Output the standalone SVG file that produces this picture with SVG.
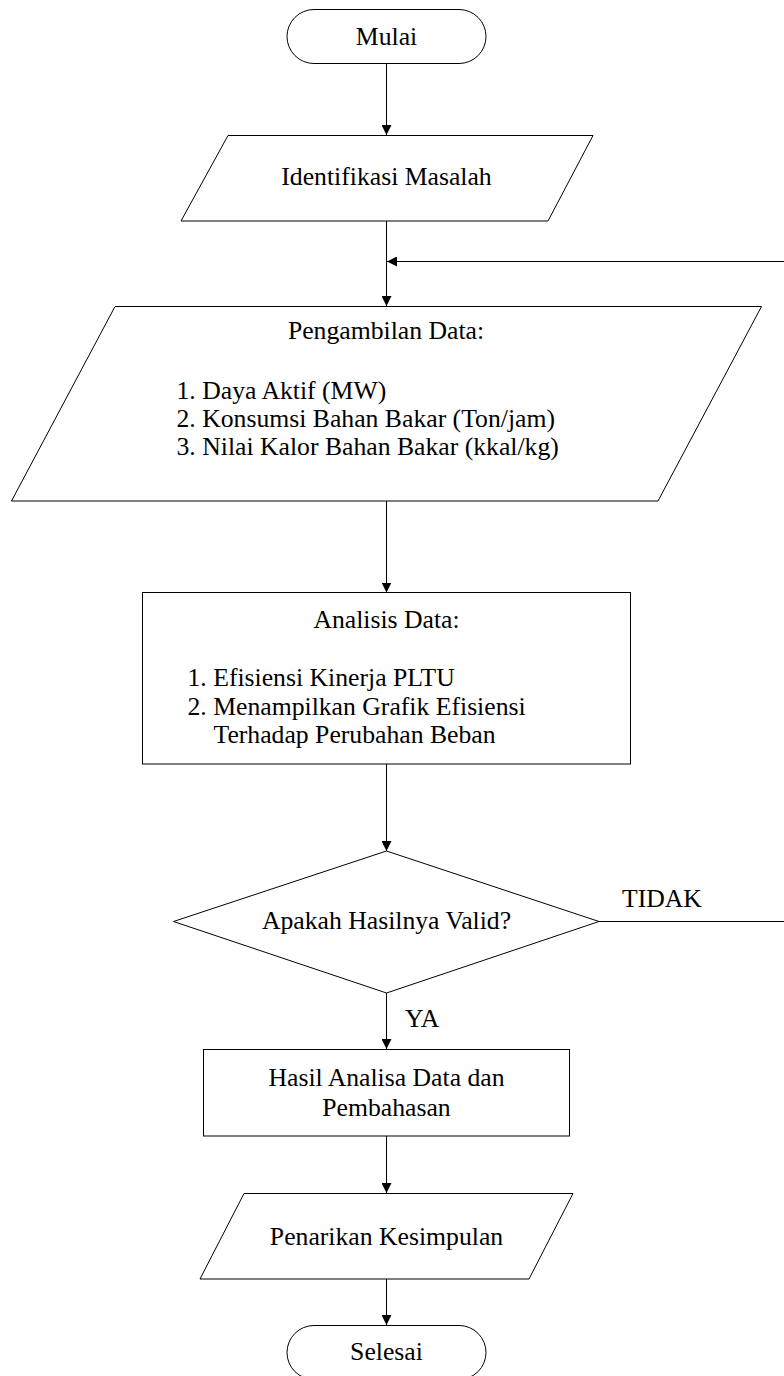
<svg xmlns="http://www.w3.org/2000/svg" width="784" height="1376" viewBox="0 0 784 1376">
<defs>
<style>
.shape{fill:#fff;stroke:#000;stroke-width:1}
.conn{fill:none;stroke:#000;stroke-width:1}
text{font-family:"Liberation Serif","Times New Roman",serif;font-size:25.7px;fill:#000}
.c{text-anchor:middle}
</style>
<marker id="arr" viewBox="0 0 10 10" refX="10" refY="5" markerWidth="10" markerHeight="10" markerUnits="userSpaceOnUse" orient="auto">
<path d="M0,0 L10,5 L0,10 Z" fill="#000"/>
</marker>
</defs>
<rect width="784" height="1376" fill="#fff"/>
<g id="connectors">
<path class="conn" d="M386.5,63.5 V135" marker-end="url(#arr)"/>
<path class="conn" d="M386.5,221 V306" marker-end="url(#arr)"/>
<path class="conn" d="M784,261.5 H387" marker-end="url(#arr)"/>
<path class="conn" d="M386.5,501 V592.5" marker-end="url(#arr)"/>
<path class="conn" d="M386.5,764 V851" marker-end="url(#arr)"/>
<path class="conn" d="M599,921.5 H784"/>
<path class="conn" d="M386.5,993 V1049" marker-end="url(#arr)"/>
<path class="conn" d="M386.5,1136 V1193" marker-end="url(#arr)"/>
<path class="conn" d="M386.5,1279 V1325" marker-end="url(#arr)"/>
<text x="622" y="907">TIDAK</text>
<text x="405" y="1027">YA</text>
</g>
<g id="mulai">
<rect class="shape" x="287" y="9.5" width="199" height="54" rx="27" ry="27"/>
<text class="c" x="386.5" y="44.5">Mulai</text>
</g>
<g id="identifikasi">
<polygon class="shape" points="228,135.5 593,135.5 548,221 181,221"/>
<text class="c" x="386.5" y="185">Identifikasi Masalah</text>
</g>
<g id="pengambilan">
<polygon class="shape" points="115,306.5 761.5,306.5 658,501 11.5,501"/>
<text class="c" x="386" y="338.5">Pengambilan Data:</text>
<text x="176.5" y="398.5">1. Daya Aktif (MW)</text>
<text x="176.5" y="426.8">2. Konsumsi Bahan Bakar (Ton/jam)</text>
<text x="176.5" y="455">3. Nilai Kalor Bahan Bakar (kkal/kg)</text>
</g>
<g id="analisis">
<rect class="shape" x="142.5" y="592.5" width="488" height="171.5"/>
<text class="c" x="386.5" y="627.5">Analisis Data:</text>
<text x="187.5" y="686">1. Efisiensi Kinerja PLTU</text>
<text x="187.5" y="714.5">2. Menampilkan Grafik Efisiensi</text>
<text x="213.5" y="743">Terhadap Perubahan Beban</text>
</g>
<g id="keputusan">
<polygon class="shape" points="386.5,851 599,921.5 386.5,993 173.5,921.5"/>
<text class="c" x="386.5" y="929">Apakah Hasilnya Valid?</text>
</g>
<g id="hasil">
<rect class="shape" x="203.5" y="1049.5" width="366" height="86.5"/>
<text class="c" x="386.5" y="1086">Hasil Analisa Data dan</text>
<text class="c" x="386.5" y="1115.5">Pembahasan</text>
</g>
<g id="penarikan">
<polygon class="shape" points="244,1193.5 573,1193.5 529,1279 200,1279"/>
<text class="c" x="386.5" y="1245">Penarikan Kesimpulan</text>
</g>
<g id="selesai">
<rect class="shape" x="287" y="1325.5" width="199" height="54" rx="27" ry="27"/>
<text class="c" x="386.5" y="1360">Selesai</text>
</g>
</svg>
